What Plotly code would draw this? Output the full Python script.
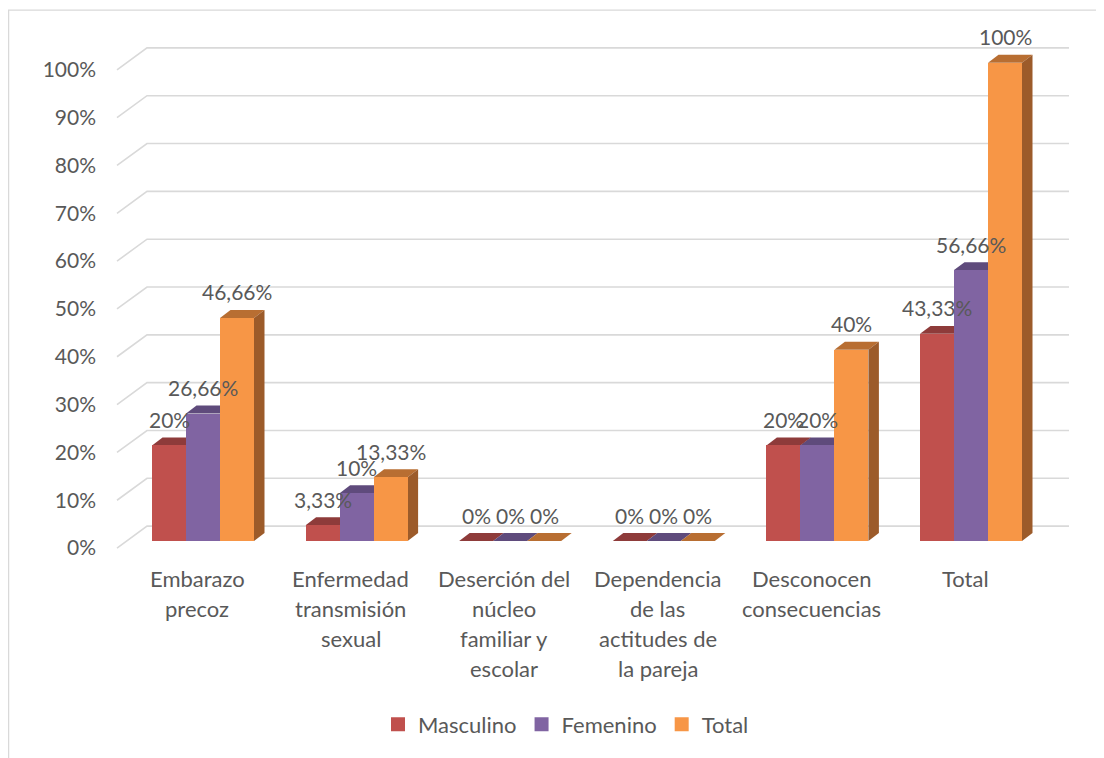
import plotly.graph_objects as go

# ---------------- data ----------------
categories = ["Embarazo precoz", "Enfermedad transmisión sexual",
              "Deserción del núcleo familiar y escolar",
              "Dependencia de las actitudes de la pareja",
              "Desconocen consecuencias", "Total"]
category_lines = [["Embarazo", "precoz"],
                  ["Enfermedad", "transmisión", "sexual"],
                  ["Deserción del", "núcleo", "familiar y", "escolar"],
                  ["Dependencia", "de las", "actitudes de", "la pareja"],
                  ["Desconocen", "consecuencias"],
                  ["Total"]]
series_names = ["Masculino", "Femenino", "Total"]
masculino = [0.20, 0.0333, 0.0, 0.0, 0.20, 0.4333]
femenino = [0.2666, 0.10, 0.0, 0.0, 0.20, 0.5666]
total = [0.4666, 0.1333, 0.0, 0.0, 0.40, 1.00]
tick_vals = [0.0, 0.1, 0.2, 0.3, 0.4, 0.5, 0.6, 0.7, 0.8, 0.9, 1.0]
tick_text = ["0%", "10%", "20%", "30%", "40%", "50%", "60%", "70%", "80%", "90%", "100%"]

series_values = [masculino, femenino, total]
front_colors = ["#C0504D", "#8064A2", "#F79646"]
top_colors = ["#8E3B3A", "#5F4B7C", "#B86E32"]
side_colors = ["#7A3231", "#4E3D66", "#9C5B2A"]

FONT = "Lato"
TXT = "#595959"
GRID = "#D9D9D9"

# ---------------- geometry (pixel scale) ----------------
PAGE_OFF = 8                   # page body margin
W, H = 1104 - PAGE_OFF, 758 - PAGE_OFF


def fx(page_px):
    return page_px - PAGE_OFF


PX_L, PX_R, PX_T, PX_B = fx(97), fx(1085), fx(20), fx(568)
X0_PX, UX = fx(203.0), 153.6      # pixel of category 0, pixels per category
Y0_PX, UY = fx(543.0), 480.0      # pixel of value 0, pixels per 100 %
x_range = [(PX_L - X0_PX) / UX, (PX_R - X0_PX) / UX]
y_range = [-(PX_B - Y0_PX) / UY, (Y0_PX - PX_T) / UY]


def dx(p):
    return p / UX


def dy(p):
    return p / UY


def paper_y(page_py):
    return (PX_B - fx(page_py)) / (PX_B - PX_T)


def paper_x(page_px):
    return (fx(page_px) - PX_L) / (PX_R - PX_L)


BW = dx(34)                          # bar width
DEPTH_X, DEPTH_Y = dx(10.5), dy(8)   # bar depth
offsets = [-BW, 0.0, BW]

fig = go.Figure()
shapes = []

# back wall gridlines with perspective diagonals
FRONT_DX, FRONT_DY = dx(-9.5), dy(-7)
BACK_DX, BACK_DY = dx(20.5), dy(15)
x_left = dx(126.5 - 203.0)
x_right = dx(1048.5 - 203.0)
for v in tick_vals:
    path = (f"M {x_left + FRONT_DX},{v + FRONT_DY} "
            f"L {x_left + BACK_DX},{v + BACK_DY} "
            f"L {x_right + BACK_DX},{v + BACK_DY}")
    shapes.append(dict(type="path", xref="x", yref="y", path=path,
                       line=dict(color=GRID, width=1.6), layer="below"))

# bars (front faces)
for s, (name, vals) in enumerate(zip(series_names, series_values)):
    xs = [i + offsets[s] for i in range(len(categories))]
    fig.add_trace(go.Bar(x=xs, y=vals, width=BW, name=name, showlegend=False,
                         marker=dict(color=front_colors[s], line=dict(width=0)),
                         hoverinfo="skip"))
# legend entries with square symbols
for s, name in enumerate(series_names):
    fig.add_trace(go.Scatter(x=[None], y=[None], mode="markers", name=name,
                             marker=dict(symbol="square", size=14, color=front_colors[s])))

# 3D faces (top + right side) drawn below the front faces
for s, vals in enumerate(series_values):
    for i, v in enumerate(vals):
        xc = i + offsets[s]
        xl, xr = xc - BW / 2, xc + BW / 2
        top = (f"M {xl},{v} L {xr},{v} L {xr + DEPTH_X},{v + DEPTH_Y} "
               f"L {xl + DEPTH_X},{v + DEPTH_Y} Z")
        shapes.append(dict(type="path", xref="x", yref="y", path=top,
                           fillcolor=top_colors[s], line=dict(width=0), layer="below"))
        if v > 0:
            side = (f"M {xr},0 L {xr + DEPTH_X},{DEPTH_Y} "
                    f"L {xr + DEPTH_X},{v + DEPTH_Y} L {xr},{v} Z")
            shapes.append(dict(type="path", xref="x", yref="y", path=side,
                               fillcolor=side_colors[s], line=dict(width=0), layer="below"))

# chart border (top and left edges visible)
shapes.append(dict(type="rect", xref="paper", yref="paper",
                   x0=paper_x(8.6), x1=paper_x(1130), y0=paper_y(790), y1=paper_y(10),
                   line=dict(color=GRID, width=1.3), fillcolor="rgba(0,0,0,0)", layer="below"))


def fmt(v):
    p = round(v * 100, 2)
    if abs(p - round(p)) < 1e-9:
        return f"{int(round(p))}%"
    return f"{p:.2f}".replace(".", ",") + "%"


annotations = []
# data labels
for s, vals in enumerate(series_values):
    for i, v in enumerate(vals):
        annotations.append(dict(x=i + offsets[s], y=v, xref="x", yref="y",
                                text=fmt(v), showarrow=False, yshift=26,
                                font=dict(family=FONT, size=21, color=TXT)))
# category labels
for i, lines in enumerate(category_lines):
    for k, line in enumerate(lines):
        annotations.append(dict(x=i - dx(6), y=paper_y(581 + 30 * k), xref="x", yref="paper",
                                text=line, showarrow=False, yanchor="middle",
                                font=dict(family=FONT, size=22, color=TXT)))

fig.update_layout(
    width=W, height=H, autosize=False,
    margin=dict(l=PX_L, r=W - PX_R, t=PX_T, b=H - PX_B, pad=0),
    paper_bgcolor="white", plot_bgcolor="rgba(0,0,0,0)",
    barmode="overlay", bargap=0,
    shapes=shapes, annotations=annotations,
    xaxis=dict(range=x_range, showgrid=False, zeroline=False, showline=False,
               showticklabels=False, fixedrange=True),
    yaxis=dict(range=y_range, showgrid=False, zeroline=False, showline=False,
               tickvals=tick_vals, ticktext=tick_text, ticks="",
               ticklabelshift=7,
               tickfont=dict(family=FONT, size=21, color=TXT), fixedrange=True),
    legend=dict(orientation="h", x=paper_x(566), xanchor="center",
                y=paper_y(727), yanchor="middle",
                font=dict(family=FONT, size=22, color=TXT), traceorder="normal"),
    showlegend=True,
)

fig.write_html("out.html")
